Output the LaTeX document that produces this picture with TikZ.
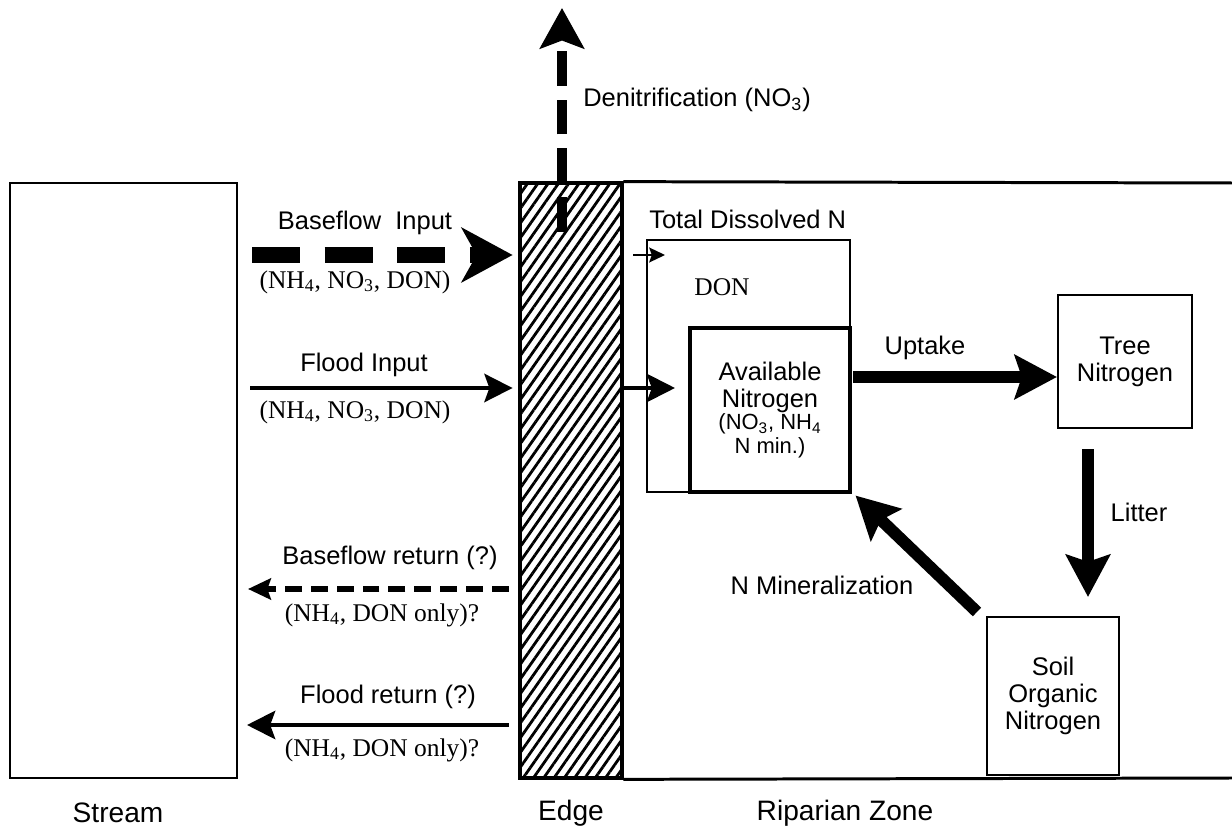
\documentclass[tikz,border=0pt]{standalone}
\usepackage{fontspec}
\setmainfont{Liberation Serif}
\setsansfont{Liberation Sans}
\usepackage{tikz}
\usetikzlibrary{arrows.meta,calc,patterns.meta}
\newcommand{\availsmall}{\fontsize{12.5}{13}\selectfont}
\tikzstyle{blk}=[rectangle, draw, line width=1.2pt, inner sep=0pt, align=center,% plain box
font=\sffamily\fontsize{14.5}{15.5}\selectfont]
\tikzstyle{edgebox}=[rectangle, draw, line width=2.3pt, minimum width=2.04cm, minimum height=11.9cm,% hatched strip
pattern={Lines[angle=55, distance=4.8pt, line width=1.6pt]}]
\tikzstyle{ripline}=[line width=1.7pt]
\tikzstyle{lab}=[font=\sffamily\fontsize{14.5}{16}\selectfont, inner sep=0pt]
\tikzstyle{chem}=[font=\rmfamily\fontsize{14.5}{16}\selectfont, inner sep=0pt]
\tikzstyle{zone}=[font=\sffamily\fontsize{16}{18}\selectfont, inner sep=0pt]
\tikzstyle{fat}=[line width=6.8pt, -{Stealth[length=24pt, width=25pt, inset=4pt]}]
\tikzstyle{bfarrow}=[line width=9pt, dash pattern=on 27.2pt off 14.2pt, -{Stealth[length=29pt, width=31pt, inset=8.5pt]}]
\tikzstyle{dnarrow}=[line width=6.2pt, dash pattern=on 19.8pt off 7.9pt, -{Stealth[length=23pt, width=25pt, inset=4.5pt]}]
\tikzstyle{flarrow}=[line width=2.6pt, -{Stealth[length=16pt, width=16pt, inset=2.8pt]}]
\tikzstyle{retdash}=[line width=3pt, dash pattern=on 9.6pt off 5.1pt, -{Stealth[length=13pt, width=12pt, inset=2pt]}]
\tikzstyle{thinarrow}=[line width=1.1pt, -{Stealth[length=9pt, width=8.5pt, inset=1.5pt]}]

\begin{document}
\begin{tikzpicture}[x=0.02cm, y=-0.02cm]
\useasboundingbox (0,0) rectangle (1232,834);
% the three zones
\node[blk, minimum width=4.54cm, minimum height=11.9cm] (stream) at (123.5,480.5) {};
\node[edgebox] (edge) at (571,480.5) {};
\coordinate (ripTR) at (1232,183);
\coordinate (ripBR) at (1232,778);
\draw[ripline] (edge.north east) -- (ripTR);
\draw[ripline] (edge.south east) -- (ripBR);
\node[zone] (streamlbl) at (118,813) {Stream};
\node[zone] (edgelbl) at (571,813) {Edge};
\node[zone] (riplbl) at (845,813) {Riparian Zone};

% nitrogen pools
\node[blk, minimum width=4.06cm, minimum height=5.04cm] (tdn) at (748.5,366) {};
\node[lab, anchor=south west] (tdnlbl) at ($(tdn.north west)+(3,-10)$) {Total Dissolved N};
\node[chem] (don) at (722,287) {DON};
\node[blk, line width=1.8pt, minimum width=3.2cm, minimum height=3.28cm] (avail) at (770,410)
  {Available\\Nitrogen\\[-3pt]{\availsmall (NO\textsubscript{3}, NH\textsubscript{4}}\\[-2pt]{\availsmall N min.)}};
\node[blk, minimum width=2.68cm, minimum height=2.66cm] (tree) at (1125,361.5) {Tree\\Nitrogen};
\node[blk, minimum width=2.64cm, minimum height=3.16cm] (soil) at (1053,696) {Soil\\Organic\\Nitrogen};

% exchange with the stream
\coordinate (bfin) at (252,255);
\draw[bfarrow] (bfin) -- ($(edge.west |- bfin)+(-6,0)$);
\node[lab] (bfinlbl) at (365,223) {Baseflow~~Input};
\node[chem] (bfinchem) at (355,282) {(NH\textsubscript{4}, NO\textsubscript{3}, DON)};

\coordinate (flin) at (250,388);
\draw[flarrow] (flin) -- ($(edge.west |- flin)+(-6,0)$);
\node[lab] (flinlbl) at (364,365) {Flood Input};
\node[chem] (flinchem) at (355,412) {(NH\textsubscript{4}, NO\textsubscript{3}, DON)};

\coordinate (bfout) at (248,589);
\draw[retdash] ($(edge.west |- bfout)+(-10,0)$) -- (bfout);
\node[lab] (bfoutlbl) at (390,558) {Baseflow return (?)};
\node[chem] (bfoutchem) at (382,615) {(NH\textsubscript{4}, DON only)?};

\coordinate (flout) at (247,725);
\draw[flarrow] ($(edge.west |- flout)+(-10,0)$) -- (flout);
\node[lab] (floutlbl) at (388,697) {Flood return (?)};
\node[chem] (floutchem) at (382,750) {(NH\textsubscript{4}, DON only)?};

% loss to the air
\coordinate (dntop) at (562,8);
\draw[dnarrow] ($(edge.north)+(-9,50)$) -- (dntop);
\node[lab, anchor=west] (dnlbl) at (583,100) {Denitrification (NO\textsubscript{3})};

% into the pools
\coordinate (donin) at (665,255);
\draw[thinarrow] ($(edge.east |- donin)+(10,0)$) -- (donin);
\coordinate (avin) at (675,388);
\draw[flarrow] (edge.east |- avin) -- (avin);

% internal cycle
\coordinate (upt) at (853,377);
\draw[fat] (upt) -- (tree.west |- upt);
\node[lab] (uptlbl) at (925,348) {Uptake};
\draw[fat] ($(tree.south)+(-37,20)$) -- ($(soil.north)+(35,-19)$);
\node[lab] (litlbl) at (1139,512) {Litter};
\draw[fat] ($(soil.north west)+(-9,-4)$) -- ($(avail.south east)+(4,2)$);
\node[lab] (minlbl) at (822,585) {N Mineralization};
\end{tikzpicture}
\end{document}
